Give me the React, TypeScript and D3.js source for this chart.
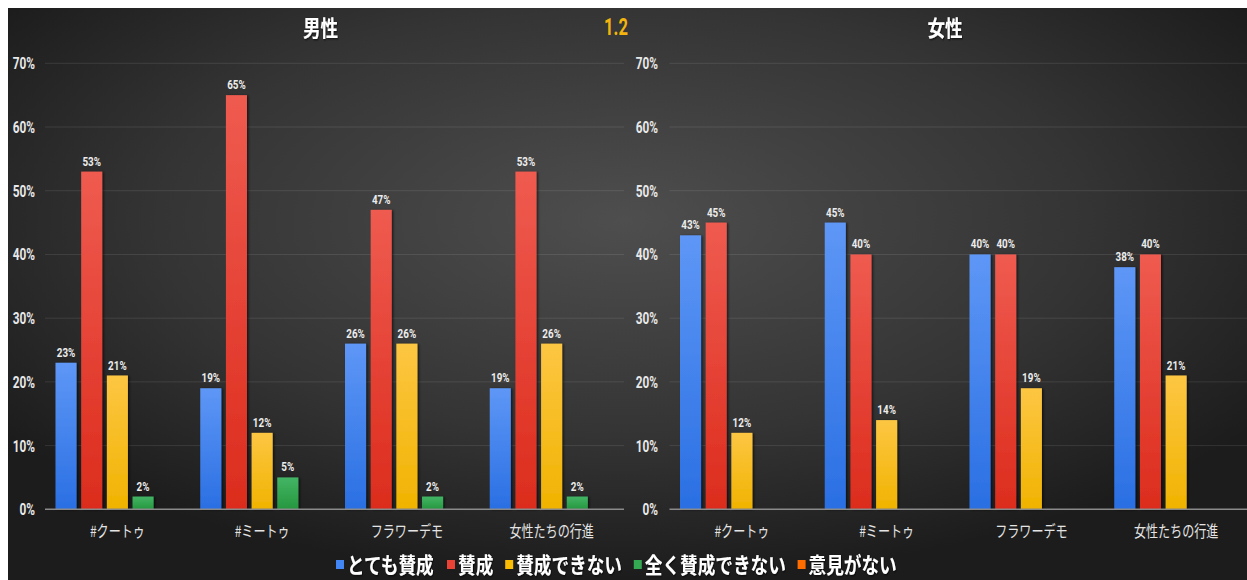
import * as d3 from 'd3';

// categories & series
const categories = ['#クートゥ', '#ミートゥ', 'フラワーデモ', '女性たちの行進'];
const seriesNames = ['とても賛成', '賛成', '賛成できない', '全く賛成できない', '意見がない'];
const yTicks = [0, 10, 20, 30, 40, 50, 60, 70];

// 男性
const menVeryAgree = [23, 19, 26, 19];
const menAgree = [53, 65, 47, 53];
const menDisagree = [21, 12, 26, 26];
const menStronglyDisagree = [2, 5, 2, 2];
const menNoOpinion: (number | null)[] = [null, null, null, null];

// 女性
const womenVeryAgree = [43, 45, 40, 38];
const womenAgree = [45, 40, 40, 40];
const womenDisagree = [12, 14, 19, 21];
const womenStronglyDisagree: (number | null)[] = [null, null, null, null];
const womenNoOpinion: (number | null)[] = [null, null, null, null];

const colors = ['#4285f4', '#ea4335', '#fbbc04', '#34a853', '#ff6d01'];
const topColors = ['#5e97f6', '#ef5b50', '#fdc643', '#43b565', '#ff8a3a'];
const botColors = ['#2a6fe3', '#dc2c1d', '#f0b300', '#26973f', '#f05f00'];

const W = 1247;
const H = 580;
const NUM = 'Roboto, "Liberation Sans", sans-serif';
const JP = '"Noto Sans CJK JP", "Noto Sans", sans-serif';

const y = d3.scaleLinear().domain([0, 70]).range([509.3, 63.3]);

type TProps = {
  x: number; y: number; sx?: number; size: number; weight?: string | number;
  fill?: string; family?: string; anchor?: string; children: any; filter?: string;
};
const T = ({ x, y, sx = 0.8, size, weight = 'normal', fill = '#e6e6e6', family = NUM, anchor = 'middle', children, filter }: TProps) => (
  <text transform={`translate(${x},${y}) scale(${sx},1)`} fontSize={size} fontWeight={weight}
    fill={fill} fontFamily={family} textAnchor={anchor as any} filter={filter}>{children}</text>
);

const Panel = ({ title, range, labelX, series }: { title: string; range: [number, number]; labelX: number; series: (number | null)[][] }) => {
  const x0 = d3.scaleBand<string>().domain(categories).range(range);
  const bw = x0.bandwidth();
  const x1 = d3.scaleBand<string>().domain(seriesNames).range([10.5, bw - 10.5]).paddingInner(0.18);
  const titleX = (range[0] + range[1]) / 2 - 14;
  return (
    <g>
      <T x={titleX} y={36} size={22} weight="bold" fill="#ffffff" family={JP} sx={0.8} filter="url(#tshadow)">{title}</T>
      {yTicks.map((t) => (
        <g key={t}>
          {t > 0 && <line x1={range[0]} x2={range[1]} y1={y(t)} y2={y(t)} stroke="#ffffff" strokeOpacity={0.1} />}
          <T x={labelX} y={y(t) + 6} size={16} weight="bold" anchor="end" sx={0.74} fill="#e8e8e8">{`${t}%`}</T>
        </g>
      ))}
      {categories.map((c, ci) => (
        <g key={c} transform={`translate(${x0(c)},0)`}>
          {series.map((vals, si) => {
            const v = vals[ci];
            if (v == null) return null;
            const bx = x1(seriesNames[si])!;
            return (
              <g key={si}>
                <rect x={bx} y={y(v)} width={x1.bandwidth()} height={y(0) - y(v)}
                  fill={`url(#grad${si})`} filter="url(#bshadow)" />
                <T x={bx + x1.bandwidth() / 2} y={y(v) - 6} size={12} weight="bold" sx={0.82} fill="#ececec">{`${v}%`}</T>
              </g>
            );
          })}
          <T x={x1('賛成できない')! + x1.bandwidth() / 2} y={537} size={15.5} family={JP} sx={0.78} fill="#e4e4e4">{c}</T>
        </g>
      ))}
      <line x1={range[0]} x2={range[1]} y1={y(0)} y2={y(0)} stroke="#8a8a8a" strokeWidth={1.5} />
    </g>
  );
};

const Legend = () => {
  const charW = 17.6;
  let cx = 336;
  const items = seriesNames.map((name, i) => {
    const it = { name, i, x: cx };
    cx += 12 + name.length * charW + 11;
    return it;
  });
  return (
    <g>
      {items.map((it) => (
        <g key={it.name}>
          <rect x={it.x} y={560} width={8} height={9} fill={colors[it.i]} />
          <T x={it.x + 11} y={573} size={21.5} weight="bold" anchor="start" family={JP} sx={0.82} fill="#ffffff" filter="url(#tshadow)">{it.name}</T>
        </g>
      ))}
    </g>
  );
};

export default function App() {
  return (
    <svg width={W - 8} height={H - 8} style={{ position: 'absolute', left: 8, top: 8, display: 'block' }}>
      <defs>
        <radialGradient id="bg" cx="0.5" cy="0.38" r="0.62">
          <stop offset="0" stopColor="#4e4e4e" />
          <stop offset="0.6" stopColor="#343434" />
          <stop offset="1" stopColor="#1c1c1c" />
        </radialGradient>
        {colors.map((c, i) => (
          <linearGradient key={c} id={`grad${i}`} x1="0" y1="0" x2="0" y2="1">
            <stop offset="0" stopColor={topColors[i]} />
            <stop offset="1" stopColor={botColors[i]} />
          </linearGradient>
        ))}
        <filter id="bshadow" x="-20%" y="-5%" width="140%" height="110%">
          <feDropShadow dx="1.5" dy="0.5" stdDeviation="1" floodColor="#000" floodOpacity="0.6" />
        </filter>
        <filter id="tshadow" x="-10%" y="-20%" width="120%" height="140%">
          <feDropShadow dx="1" dy="1" stdDeviation="0.8" floodColor="#000" floodOpacity="0.7" />
        </filter>
      </defs>
      <g transform="translate(-8,-8)">
        <rect x={0} y={0} width={W} height={H} fill="url(#bg)" />
        <Panel title="男性" range={[45, 624]} labelX={35}
          series={[menVeryAgree, menAgree, menDisagree, menStronglyDisagree, menNoOpinion]} />
        <Panel title="女性" range={[669.5, 1248.5]} labelX={658}
          series={[womenVeryAgree, womenAgree, womenDisagree, womenStronglyDisagree, womenNoOpinion]} />
        <T x={616} y={35} size={23} weight="bold" sx={0.72} fill="#f3b50d">1.2</T>
        <Legend />
      </g>
    </svg>
  );
}
